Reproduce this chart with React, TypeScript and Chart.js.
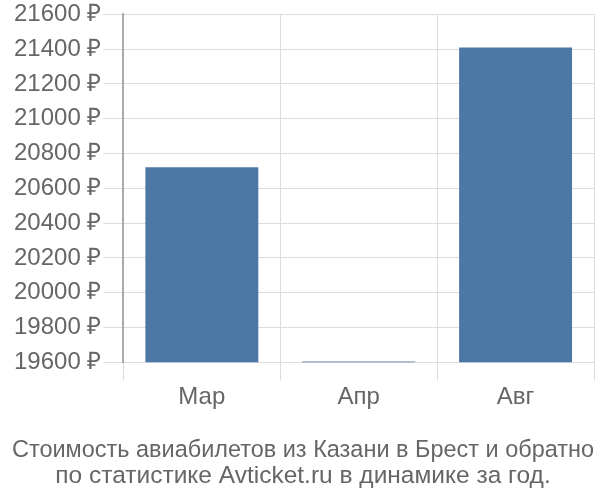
import React, { useEffect, useRef } from "react";
import { Chart, registerables } from "chart.js";

Chart.register(...registerables);

const categories = ["Мар", "Апр", "Авг"];
const prices = [20721, 19605, 21410];
const yTicks = [19600, 19800, 20000, 20200, 20400, 20600, 20800, 21000, 21200, 21400, 21600];
const titleLines = [
  "Стоимость авиабилетов из Казани в Брест и обратно",
  "по статистике Avticket.ru в динамике за год.",
];

const FONT = "'Liberation Sans', Arial, sans-serif";

export default function App() {
  const ref = useRef<HTMLCanvasElement | null>(null);
  useEffect(() => {
    document.body.style.margin = "0";
    const ctx = ref.current!;
    const chart = new Chart(ctx, {
      type: "bar",
      data: {
        labels: categories,
        datasets: [
          {
            data: prices,
            backgroundColor: "#4c78a6",
            borderWidth: 0,
          },
        ],
      },
      options: {
        animation: false,
        responsive: false,
        maintainAspectRatio: false,
        layout: { padding: { left: 12, right: 6, top: 0, bottom: 11 } },
        plugins: {
          legend: { display: false },
          tooltip: { enabled: false },
          title: {
            display: true,
            position: "bottom",
            text: titleLines,
            color: "#666",
            font: { family: FONT, size: 24.5, weight: "normal", lineHeight: 1.06 },
            padding: { top: 22, bottom: 0 },
          },
        },
        scales: {
          x: {
            grid: { offset: true, color: "#ddd", tickLength: 18, drawTicks: true },
            border: { color: "#ddd" },
            ticks: {
              color: "#666",
              font: { family: FONT, size: 24 },
              padding: 3,
            },
          },
          y: {
            min: 19600,
            max: 21600,
            afterBuildTicks: (axis: any) => {
              axis.ticks = yTicks.map((v) => ({ value: v }));
            },
            grid: { color: "#ddd", tickLength: 20 },
            border: { color: "#aaa", width: 2 },
            ticks: {
              color: "#666",
              font: { family: FONT, size: 24 },
              padding: 2,
              callback: (v: any) => `${v} ₽`,
            },
          },
        },
      },
    });
    return () => chart.destroy();
  }, []);
  return (
    <div style={{ position: "absolute", left: 0, top: -2, width: 600, height: 502, overflow: "hidden" }}>
      <canvas ref={ref} width={600} height={502} />
    </div>
  );
}
